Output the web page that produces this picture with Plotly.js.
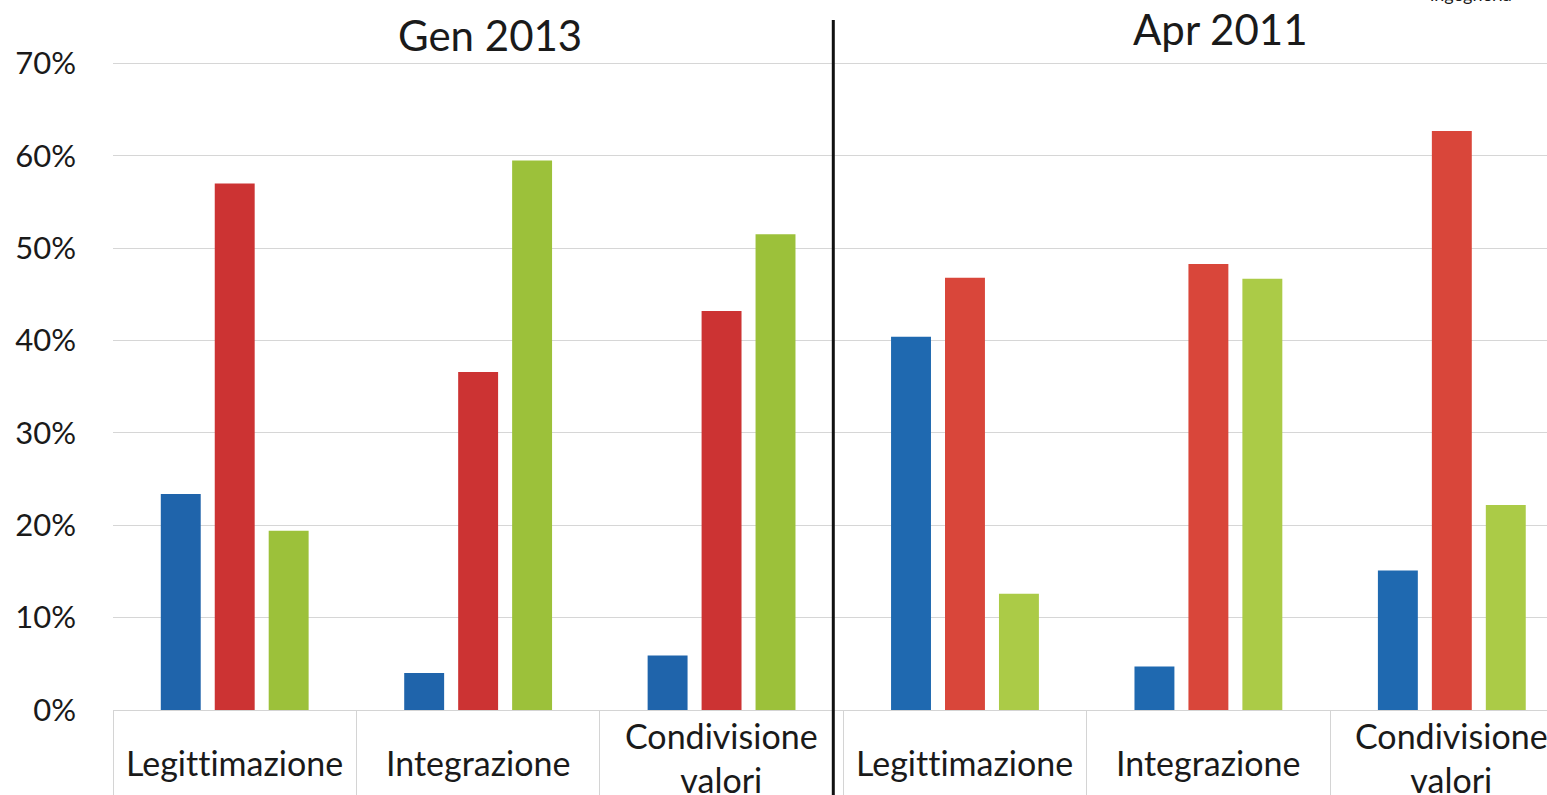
<!DOCTYPE html>
<html>
<head>
<meta charset="utf-8">
<script src="https://cdn.plot.ly/plotly-3.0.1.min.js"></script>
<style>
html,body{margin:0;padding:0;background:#fff;}
#chart{width:1547px;height:795px;}
svg text{font-variant-ligatures:none !important;font-feature-settings:"liga" 0,"clig" 0 !important;}
</style>
</head>
<body>
<div id="chart"></div>
<script>
// ---- data ----
var categories = ["Legittimazione", "Integrazione", "Condivisione<br>valori",
                  "Legittimazione", "Integrazione", "Condivisione<br>valori"];
var periods = ["Gen 2013", "Apr 2011"];
var blueValues  = [0.234, 0.040, 0.059, 0.404, 0.047, 0.151];
var redValues   = [0.570, 0.366, 0.432, 0.468, 0.483, 0.627];
var greenValues = [0.194, 0.595, 0.515, 0.126, 0.467, 0.222];
var yTickVals = [0, 0.1, 0.2, 0.3, 0.4, 0.5, 0.6, 0.7];
var yTickText = ["0%", "10%", "20%", "30%", "40%", "50%", "60%", "70%"];

// ---- styles ----
var blueCols  = ["#1F64AB","#1F64AB","#1F64AB","#1F69B0","#1F69B0","#1F69B0"];
var redCols   = ["#CC3333","#CC3333","#CC3333","#D9463A","#D9463A","#D9463A"];
var greenCols = ["#9CC13A","#9CC13A","#9CC13A","#ABCB47","#ABCB47","#ABCB47"];

var xIdx = categories.map(function(_, i){ return i; });

function mk(name, vals, cols){
  return {type:"bar", name:name, x:xIdx, y:vals, marker:{color:cols, line:{width:0}},
          hoverinfo:"y"};
}
var data = [mk("A", blueValues, blueCols), mk("B", redValues, redCols), mk("C", greenValues, greenCols)];

var FONT = "Lato, 'Open Sans', sans-serif";
var boundaries = [];
for (var i = 0; i <= categories.length; i++) boundaries.push(i - 0.5);

var annotations = categories.map(function(c, i){
  var twoLine = c.indexOf("<br>") >= 0;
  return {x:i, xref:"x", y:0, yref:"paper", yshift:twoLine ? -47 : -52, yanchor:"middle", xanchor:"center",
          text:c, showarrow:false, font:{family:FONT, size:34, color:"#1a1a1a"}};
});
annotations.push({x:0.263, xref:"paper", y:1.015, yref:"paper", yanchor:"middle", xanchor:"center",
  text:periods[0], showarrow:false, font:{family:FONT, size:42, color:"#1a1a1a"}});
annotations.push({x:0.772, xref:"paper", y:1.024, yref:"paper", yanchor:"middle", xanchor:"center",
  text:periods[1], showarrow:false, font:{family:FONT, size:42, color:"#1a1a1a"}});
annotations.push({x:0.947, xref:"paper", y:1.057, yref:"paper", yanchor:"bottom", xanchor:"center",
  text:"ingegneria", showarrow:false, font:{family:FONT, size:18, color:"#1a1a1a"}});

var layout = {
  width:1547, height:795,
  margin:{l:112.5, r:0, t:45, b:85, pad:0},
  paper_bgcolor:"#ffffff", plot_bgcolor:"#ffffff",
  showlegend:false,
  barmode:"group", bargap:0.335, bargroupgap:0.26,
  xaxis:{range:[-0.5, 5.391], tickmode:"array", tickvals:boundaries, ticktext:boundaries.map(function(){return "";}),
         ticks:"outside", ticklen:85, tickcolor:"#d4d4d4", tickwidth:1,
         showgrid:false, zeroline:false, showline:true, linecolor:"#d4d4d4", linewidth:1,
         showticklabels:false, fixedrange:true},
  yaxis:{range:[0, 0.72], tickmode:"array", tickvals:yTickVals, ticktext:yTickText,
         showgrid:true, gridcolor:"#d6d6d6", gridwidth:1, zeroline:false, showline:false,
         ticks:"", ticklabelstandoff:36,
         tickfont:{family:FONT, size:31, color:"#1a1a1a"}, fixedrange:true},
  shapes:[{type:"line", xref:"paper", yref:"paper", x0:0.5023, x1:0.5023, y0:-0.13, y1:1.0376,
           line:{color:"#111111", width:3}}],
  annotations:annotations
};
Plotly.newPlot("chart", data, layout, {displayModeBar:false, staticPlot:true});
</script>
</body>
</html>
